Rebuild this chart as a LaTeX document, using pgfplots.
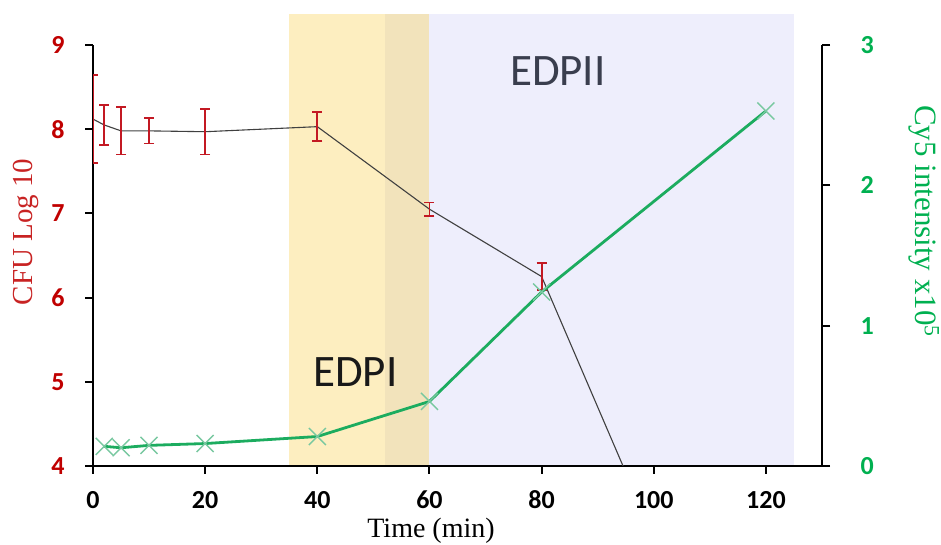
\documentclass[border=0pt]{standalone}
\usepackage{fontspec}
\setmainfont{Carlito}
\newfontfamily\timesfont{Liberation Serif}
\usepackage{pgfplots}
\pgfplotsset{compat=1.18}
\definecolor{cfured}{RGB}{192,0,0}
\definecolor{cfulab}{RGB}{200,35,35}
\definecolor{cygreen}{RGB}{0,176,80}
\definecolor{linegreen}{RGB}{28,172,95}
\definecolor{markgreen}{RGB}{120,200,160}
\definecolor{ebred}{RGB}{195,25,35}
\definecolor{yel}{RGB}{253,238,192}
\definecolor{ovl}{RGB}{242,227,187}
\definecolor{lav}{RGB}{238,238,252}
\definecolor{edpii}{RGB}{58,62,78}
\pgfplotsset{base/.style={at={(93pt,79pt)}, anchor=south west, scale only axis,
  width=729pt, height=421pt, xmin=0, xmax=130,
  /pgf/number format/assume math mode=true}}
\begin{document}
\begin{tikzpicture}
% shaded phases
\begin{axis}[base, ymin=4, ymax=9, hide axis, clip=false]
\addplot[fill=yel, draw=none] coordinates {(35,4) (52,4) (52,9.37) (35,9.37)} -- cycle;
\addplot[fill=ovl, draw=none] coordinates {(52,4) (60,4) (60,9.37) (52,9.37)} -- cycle;
\addplot[fill=lav, draw=none] coordinates {(60,4) (125,4) (125,9.37) (60,9.37)} -- cycle;
\node[font=\fontsize{45}{45}\selectfont, text=black!90] at (axis cs:46.8,5.12) {EDPI};
\node[font=\fontsize{45}{45}\selectfont, text=edpii] at (axis cs:82.9,8.69) {EDPII};
\end{axis}
% CFU axis
\begin{axis}[base, ymin=4, ymax=9,
  axis x line*=bottom, axis y line*=left,
  axis line style={line width=2pt, black},
  xtick={0,20,...,120}, ytick={4,5,6,7,8,9},
  tick align=outside, major tick length=8pt,
  tick style={line width=2pt, black},
  xticklabel style={font=\bfseries\fontsize{26}{26}\selectfont, text=black, anchor=base, yshift=-35pt},
  yticklabel style={font=\bfseries\fontsize{26}{26}\selectfont, text=cfured, xshift=-17pt}]
\addplot[color=black!75, line width=1.1pt, mark=none]
  coordinates {(0,8.12) (2,8.05) (5,7.98) (10,7.98) (20,7.97) (40,8.03) (60,7.05) (80,6.25) (120,0.05)};
\addplot[draw=none, mark=none, forget plot,
  error bars/.cd, y dir=both, y explicit,
  error bar style={draw=ebred, solid, line width=1.8pt},
  error mark options={draw=ebred, solid, line width=1.8pt, mark size=5pt, rotate=90}]
  coordinates {(0,8.12) +- (0,0.52) (2,8.05) +- (0,0.24) (5,7.98) +- (0,0.28)
    (10,7.98) +- (0,0.15) (20,7.97) +- (0,0.27) (40,8.03) +- (0,0.17)
    (60,7.05) +- (0,0.08) (80,6.25) +- (0,0.16)};
\end{axis}
% Cy5 axis
\begin{axis}[base, ymin=0, ymax=3,
  axis y line*=right, axis x line=none,
  axis line style={line width=2pt, black},
  ytick={0,1,2,3}, tick align=outside, major tick length=8pt,
  tick style={line width=2pt, black},
  yticklabel style={font=\bfseries\fontsize{26}{26}\selectfont, text=cygreen, xshift=27pt}]
\addplot[only marks, mark=x, mark size=12pt, mark options={draw=markgreen, line width=1.4pt}]
  coordinates {(2,0.14) (5,0.13) (10,0.147) (20,0.16) (40,0.21) (60,0.46) (80,1.24) (120,2.53)};
\addplot[linegreen, line width=2.8pt, mark=none]
  coordinates {(2,0.14) (5,0.13) (10,0.147) (20,0.16) (40,0.21) (60,0.46) (80,1.24) (120,2.53)};
\end{axis}
\node[rotate=90, font=\timesfont\fontsize{29}{29}\selectfont, text=cfulab] at (26pt,313pt) {CFU Log 10};
\node[rotate=-90, font=\timesfont\fontsize{31}{31}\selectfont, text=cygreen] at (924pt,324pt) {Cy5 intensity x10\textsuperscript{5}};
\node[font=\timesfont\fontsize{28}{28}\selectfont] at (431pt,14pt) {Time (min)};
\pgfresetboundingbox
\path[use as bounding box] (0,0) rectangle (941pt,545pt);
\end{tikzpicture}
\end{document}
